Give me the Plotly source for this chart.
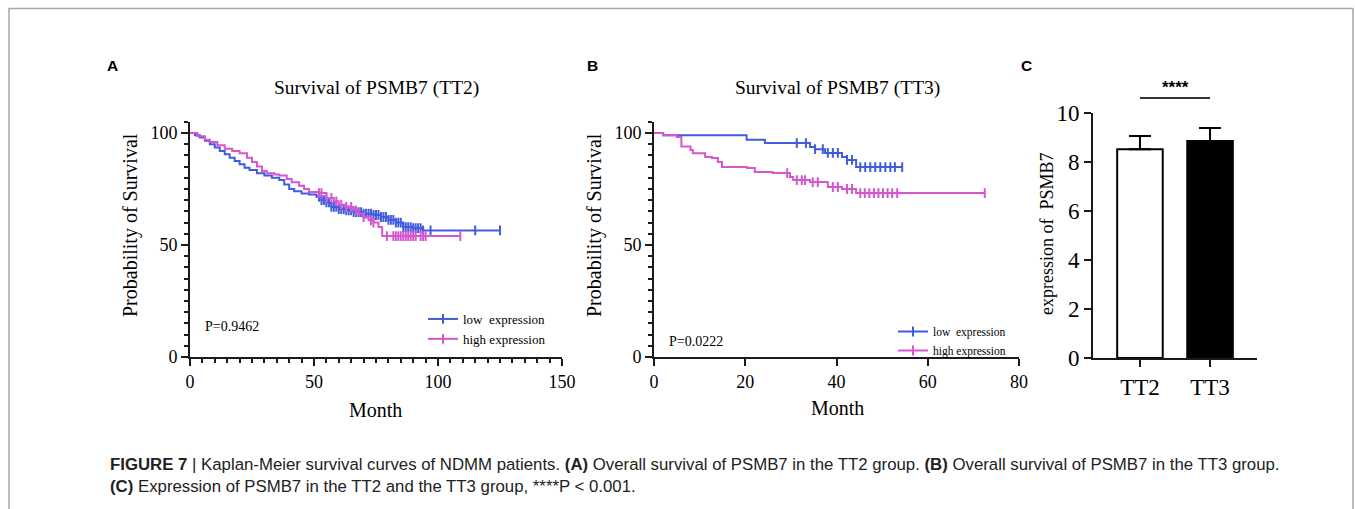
import numpy as np
import plotly.graph_objects as go

W, H = 1355, 509

# ---------------- data ----------------
# Panel A: Survival of PSMB7 (TT2)  (months, survival %)
a_low_t = [0, 2, 4, 6, 8, 10, 12, 14, 16, 18, 20, 22, 24, 27, 30, 33, 36, 38, 40, 42, 45, 48, 51, 53, 55,
           57, 60, 63, 66, 70, 74, 77, 80, 83, 86, 90, 94, 125]
a_low_s = [100, 99, 98, 96.5, 95, 93.5, 92, 90.5, 89, 87.5, 86, 84.5, 83.5, 82, 81, 80, 79, 77, 75, 74, 73,
           72.5, 71.5, 70, 69, 67, 66, 65.5, 64.7, 64, 63.4, 62.5, 61.2, 60, 58, 57.5, 56.5, 56.5]
a_low_cens = [52, 53, 54, 55, 56, 57, 58, 59, 60, 61, 62, 63, 64, 65, 66, 67, 68, 69, 70, 71, 72, 73, 74, 75,
              76, 77, 78, 79, 80, 81, 82, 83, 84, 85, 86, 87, 88, 89, 90, 91, 92, 93, 94, 97, 115, 125]

a_high_t = [0, 3, 6, 8, 11, 14, 17, 20, 23, 25, 27, 29, 31, 34, 36, 39, 41, 44, 46, 48, 52, 55, 58, 60, 63,
            66, 68, 70, 72, 74, 76, 77.5, 109]
a_high_s = [100, 98.5, 97, 96, 94.5, 93, 92, 91, 89, 87, 85, 83, 82, 81.5, 81, 79.5, 78, 76.5, 75, 73.7,
            73.2, 71, 69.5, 68, 67, 65.5, 64, 62.5, 61, 60, 58, 54, 54]
a_high_cens = [52, 53, 55, 57, 59, 61, 63, 65, 67, 70, 73, 74, 79.4, 82, 83, 84, 85, 86, 87, 88, 89, 90, 91,
               93, 94, 95, 109]

# Panel B: Survival of PSMB7 (TT3)
b_low_t = [0, 2, 20.3, 24.3, 34.2, 35.3, 37.5, 41.2, 42.3, 44.3, 54.4]
b_low_s = [100, 99, 97, 95.5, 93.75, 92.8, 91.1, 89.3, 88, 84.8, 84.8]
b_low_cens = [31.3, 33.3, 35.3, 37, 38.1, 39.2, 40.3, 42.3, 43.4, 45.2, 46.3, 47.4, 48.5, 49.6, 50.7, 51.8,
              52.8, 54.4]

b_high_t = [0, 2, 5, 6, 8, 8.5, 11.2, 12.7, 14, 14.9, 20.4, 22.1, 26, 29.8, 30.5, 34.2, 38.1, 41.2, 44.3, 72.5]
b_high_s = [100, 99, 98.2, 94, 92.4, 91, 89.3, 88.8, 87, 84.8, 84.4, 82.6, 82.1, 80.4, 79, 78.1, 75.9, 75,
            73.2, 73.2]
b_high_cens = [29.2, 31.3, 32.4, 33.1, 34.8, 35.9, 39.2, 40.3, 42.3, 43.4, 45.2, 46.2, 47.2, 48.2, 49.2, 50.2,
               51.2, 52.2, 53.3, 72.5]

# Panel C: expression of PSMB7
c_groups = ["TT2", "TT3"]
c_mean = [8.52, 8.86]
c_sd = [0.54, 0.53]

a_pval = "P=0.9462"
b_pval = "P=0.0222"

# ---------------- styling ----------------
BLUE = "rgb(66,92,222)"
PINK = "rgb(214,86,208)"
SERIF = "Liberation Serif"


def fx(px):
    return px / W


def fy(py):
    return 1 - py / H


def step_at(t, s, c):
    t = np.asarray(t, float)
    s = np.asarray(s, float)
    idx = np.searchsorted(t, np.asarray(c, float), side="right") - 1
    return s[np.clip(idx, 0, len(s) - 1)]


fig = go.Figure()


def km(t, s, cens, color, name, xa, ya, legend):
    fig.add_trace(go.Scatter(x=t, y=s, mode="lines", line=dict(color=color, width=2, shape="hv"),
                             xaxis=xa, yaxis=ya, showlegend=False, hoverinfo="skip"))
    fig.add_trace(go.Scatter(x=cens, y=step_at(t, s, cens), mode="markers",
                             marker=dict(symbol="line-ns", size=7, line=dict(color=color, width=2)),
                             xaxis=xa, yaxis=ya, showlegend=False, hoverinfo="skip"))
    fig.add_trace(go.Scatter(x=[None], y=[None], mode="lines+markers", name=name,
                             line=dict(color=color, width=2),
                             marker=dict(symbol="line-ns", size=7, line=dict(color=color, width=2)),
                             xaxis=xa, yaxis=ya, legend=legend, showlegend=True))


km(a_low_t, a_low_s, a_low_cens, BLUE, "low  expression", "x", "y", "legend")
km(a_high_t, a_high_s, a_high_cens, PINK, "high expression", "x", "y", "legend")
km(b_low_t, b_low_s, b_low_cens, BLUE, "low  expression", "x2", "y2", "legend2")
km(b_high_t, b_high_s, b_high_cens, PINK, "high expression", "x2", "y2", "legend2")

fig.add_trace(go.Bar(x=c_groups, y=c_mean, xaxis="x3", yaxis="y3", width=0.65,
                     marker=dict(color=["white", "black"], line=dict(color="black", width=2)),
                     error_y=dict(type="data", array=c_sd, arrayminus=[0, 0], symmetric=False,
                                  color="black", thickness=2, width=11),
                     showlegend=False))

axis_common = dict(showline=True, linecolor="#1a1a1a", linewidth=2, ticks="outside", tickwidth=2,
                   tickcolor="#1a1a1a", showgrid=False, zeroline=False, fixedrange=True, automargin=False,
                   tickfont=dict(family=SERIF, size=18, color="black"))
big_tick = dict(family=SERIF, size=23, color="black")
minor5 = dict(dtick=5, ticklen=4, tickwidth=1.5, ticks="outside", tickcolor="#1a1a1a")

fig.update_layout(
    width=W, height=H, margin=dict(l=0, r=0, t=0, b=0, autoexpand=False),
    paper_bgcolor="white", plot_bgcolor="white",
    xaxis=dict(domain=[fx(190), fx(562)], range=[0, 150], tickvals=[0, 50, 100, 150], ticklen=7,
               minor=minor5, anchor="y", **axis_common),
    yaxis=dict(domain=[fy(357), fy(121.8)], range=[0, 105], tickvals=[0, 50, 100], ticklen=7,
               minor=minor5, anchor="x", **axis_common),
    xaxis2=dict(domain=[fx(654), fx(1019)], range=[0, 80], tickvals=[0, 20, 40, 60, 80], ticklen=7,
                anchor="y2", **axis_common),
    yaxis2=dict(domain=[fy(357), fy(121.8)], range=[0, 105], tickvals=[0, 50, 100], ticklen=7,
                minor=minor5, anchor="x2", **axis_common),
    xaxis3=dict(domain=[fx(1093), fx(1257)], range=[-0.67, 1.67], ticklen=7, anchor="y3",
                **{**axis_common, "tickfont": big_tick}),
    yaxis3=dict(domain=[fy(358), fy(113)], range=[0, 10], dtick=2, ticklen=7, anchor="x3",
                **{**axis_common, "tickfont": big_tick}),
    legend=dict(x=fx(423), y=fy(304), xanchor="left", yanchor="top", bgcolor="rgba(0,0,0,0)",
                font=dict(family=SERIF, size=13, color="black"), tracegroupgap=0, itemwidth=30),
    legend2=dict(x=fx(893), y=fy(317), xanchor="left", yanchor="top", bgcolor="rgba(0,0,0,0)",
                 font=dict(family=SERIF, size=11.5, color="black"), tracegroupgap=0, itemwidth=30),
)

ann = []


def text(x, y, s, size, family=SERIF, angle=0, xanchor="center", color="black"):
    ann.append(dict(x=fx(x), y=fy(y), xref="paper", yref="paper", text=s, showarrow=False,
                    font=dict(family=family, size=size, color=color), textangle=angle,
                    xanchor=xanchor, yanchor="middle"))


text(112, 66, "<b>A</b>", 15.5, "Liberation Sans")
text(592, 66, "<b>B</b>", 15.5, "Liberation Sans")
text(1026, 66, "<b>C</b>", 15.5, "Liberation Sans")
text(376, 88, "Survival of PSMB7 (TT2)", 19.5)
text(838, 88, "Survival of PSMB7 (TT3)", 19.5)
text(375, 410, "Month", 20)
text(838, 408, "Month", 20)
text(131, 225, "Probability of Survival", 20, angle=-90)
text(595, 225, "Probability of Survival", 20, angle=-90)
text(1047, 234, "expression of\u00a0 PSMB7", 18, angle=-90)
text(203, 326, a_pval, 14, xanchor="left")
text(667, 341, b_pval, 14, xanchor="left")
text(1175, 87, "<b>****</b>", 17, "Liberation Sans")
text(108, 464, "<b>FIGURE 7</b> | Kaplan-Meier survival curves of NDMM patients. <b>(A)</b> Overall survival of PSMB7 "
              "in the TT2 group. <b>(B)</b> Overall survival of PSMB7 in the TT3 group.", 16.8,
     "Liberation Sans", xanchor="left", color="#222")
text(108, 486, "<b>(C)</b> Expression of PSMB7 in the TT2 and the TT3 group, ****P &lt; 0.001.", 16.8,
     "Liberation Sans", xanchor="left", color="#222")

fig.update_layout(annotations=ann)

fig.update_layout(shapes=[
    dict(type="rect", xref="paper", yref="paper", x0=fx(9), x1=fx(1353), y0=-0.2, y1=fy(8.5),
         line=dict(color="#a8a8a8", width=1.5), fillcolor="rgba(0,0,0,0)", layer="below"),
    dict(type="line", xref="x3", yref="paper", x0=0, x1=1, y0=fy(98), y1=fy(98),
         line=dict(color="#333", width=2)),
])

fig.write_html("out.html")
